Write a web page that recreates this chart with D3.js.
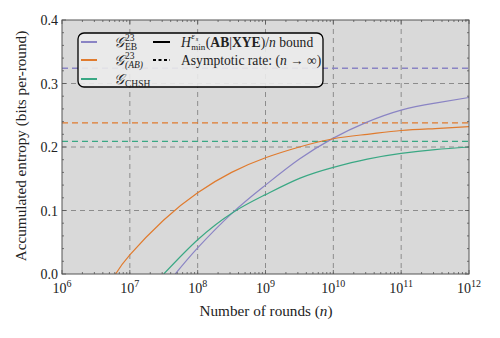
<!DOCTYPE html>
<html><head><meta charset="utf-8">
<script src="https://cdn.jsdelivr.net/npm/d3@7"></script>
<style>body{margin:0;background:#fff}svg text{font-family:"Liberation Serif","DejaVu Serif",serif;fill:#222}</style>
</head><body><svg id="c" width="500" height="338"></svg>
<script>
// ---- data (log10 of n, accumulated entropy) ----
const seriesNames = ["EB", "AB", "CHSH"];
const logN_EB   = [7.67, 8.0, 8.52, 9.0, 9.5, 10.0, 10.47, 11.0, 11.5, 12.0];
const val_EB    = [0.0, 0.041, 0.097, 0.140, 0.181, 0.214, 0.238, 0.258, 0.269, 0.278];
const logN_AB   = [6.79, 7.0, 7.5, 8.0, 8.5, 9.0, 9.5, 10.0, 10.5, 11.0, 11.5, 12.0];
const val_AB    = [0.0, 0.030, 0.085, 0.128, 0.160, 0.183, 0.200, 0.213, 0.220, 0.226, 0.229, 0.232];
const logN_CHSH = [7.50, 8.0, 8.52, 9.0, 9.51, 10.0, 10.5, 11.0, 11.5, 12.0];
const val_CHSH  = [0.0, 0.054, 0.097, 0.125, 0.151, 0.168, 0.181, 0.190, 0.196, 0.200];
const asymptotes = [0.324, 0.238, 0.209];
const colors = ["#8a84c4", "#e07b2e", "#3aa884"];
const xTickExps = [6, 7, 8, 9, 10, 11, 12];
const yTicks = [0.0, 0.1, 0.2, 0.3, 0.4];

const svg = d3.select("#c");
const L = 62, R = 469, T = 20, B = 274;
const x = d3.scaleLog().domain([1e6, 1e12]).range([L, R]);
const y = d3.scaleLinear().domain([0, 0.4]).range([B, T]);

svg.append("defs").append("clipPath").attr("id", "clip")
  .append("rect").attr("x", L).attr("y", T).attr("width", R - L).attr("height", B - T);

svg.append("rect").attr("x", L).attr("y", T).attr("width", R - L).attr("height", B - T).attr("fill", "#d9d9d9");

const plot = svg.append("g").attr("clip-path", "url(#clip)");
// grid
xTickExps.slice(1, -1).forEach(e => {
  plot.append("line").attr("x1", x(10 ** e)).attr("x2", x(10 ** e)).attr("y1", T).attr("y2", B)
    .attr("stroke", "#8c8c8c").attr("stroke-width", 1).attr("stroke-dasharray", "5,4");
});
yTicks.slice(1, -1).forEach(v => {
  plot.append("line").attr("x1", L).attr("x2", R).attr("y1", y(v)).attr("y2", y(v))
    .attr("stroke", "#8c8c8c").attr("stroke-width", 1).attr("stroke-dasharray", "5,4");
});
// asymptotes
asymptotes.forEach((a, i) => {
  plot.append("line").attr("x1", L).attr("x2", R).attr("y1", y(a)).attr("y2", y(a))
    .attr("stroke", colors[i]).attr("stroke-width", 1.3).attr("stroke-dasharray", "6,4");
});
// curves
const line = d3.line().x(d => x(10 ** d[0])).y(d => y(d[1])).curve(d3.curveNatural);
[[logN_EB, val_EB], [logN_AB, val_AB], [logN_CHSH, val_CHSH]].forEach((s, i) => {
  plot.append("path").datum(s[0].map((v, j) => [v, s[1][j]]))
    .attr("d", line).attr("fill", "none").attr("stroke", colors[i]).attr("stroke-width", 1.2);
});

// frame
svg.append("rect").attr("x", L).attr("y", T).attr("width", R - L).attr("height", B - T)
  .attr("fill", "none").attr("stroke", "#555").attr("stroke-width", 1);

// ticks (inward) on all sides
const tk = svg.append("g").attr("stroke", "#555").attr("stroke-width", 0.8);
for (let e = 6; e <= 12; e++) {
  const xs = x(10 ** e);
  tk.append("line").attr("x1", xs).attr("x2", xs).attr("y1", B).attr("y2", B - 4);
  tk.append("line").attr("x1", xs).attr("x2", xs).attr("y1", T).attr("y2", T + 4);
  if (e < 12) for (let m = 2; m <= 9; m++) {
    const xm = x(m * 10 ** e);
    tk.append("line").attr("x1", xm).attr("x2", xm).attr("y1", B).attr("y2", B - 2);
    tk.append("line").attr("x1", xm).attr("x2", xm).attr("y1", T).attr("y2", T + 2);
  }
}
d3.range(0, 0.4001, 0.02).forEach((v, i) => {
  const len = i % 5 === 0 ? 4 : 2;
  tk.append("line").attr("x1", L).attr("x2", L + len).attr("y1", y(v)).attr("y2", y(v));
  tk.append("line").attr("x1", R).attr("x2", R - len).attr("y1", y(v)).attr("y2", y(v));
});

// y tick labels
yTicks.forEach(v => {
  svg.append("text").attr("x", L - 4).attr("y", y(v) + 5).attr("text-anchor", "end")
    .attr("font-size", 14).text(v.toFixed(1));
});
// x tick labels
xTickExps.forEach(e => {
  const t = svg.append("text").attr("x", x(10 ** e)).attr("y", 293).attr("text-anchor", "middle").attr("font-size", 14);
  t.append("tspan").text("10");
  t.append("tspan").attr("dy", -6.5).attr("font-size", 10).text(e);
});
// axis titles
svg.append("text").attr("x", 266).attr("y", 316).attr("text-anchor", "middle").attr("font-size", 15.2)
  .html('Number of rounds (<tspan font-style="italic">n</tspan>)');
svg.append("text").attr("transform", `translate(26,146) rotate(-90)`).attr("text-anchor", "middle")
  .attr("font-size", 15.2).text("Accumulated entropy (bits per-round)");

// legend
const lg = svg.append("g");
lg.append("rect").attr("x", 78).attr("y", 33).attr("width", 245).attr("height", 54).attr("rx", 6)
  .attr("fill", "#ebebeb").attr("fill-opacity", 0.9).attr("stroke", "#000").attr("stroke-width", 1.3);
const rowsY = [42, 60, 79];
const subs = [["23", "EB"], ["23", "(AB)"], ["", "CHSH"]];
const subItalic = [false, true, false];
rowsY.forEach((ry, i) => {
  lg.append("line").attr("x1", 81).attr("x2", 97).attr("y1", ry).attr("y2", ry)
    .attr("stroke", colors[i]).attr("stroke-width", 2);
  const g = lg.append("text").attr("x", 114).attr("y", ry + 4.5).attr("font-size", 14.5)
    .attr("font-style", "italic").text("𝒢");
  const w = g.node().getComputedTextLength();
  if (subs[i][0]) lg.append("text").attr("x", 114 + w + 1).attr("y", ry - 1).attr("font-size", 9.5).text(subs[i][0]);
  lg.append("text").attr("x", 114 + w + 1).attr("y", ry + 8).attr("font-size", 9.5)
    .attr("font-style", subItalic[i] ? "italic" : "normal").text(subs[i][1]);
});
lg.append("line").attr("x1", 153).attr("x2", 170).attr("y1", 42).attr("y2", 42).attr("stroke", "#000").attr("stroke-width", 2);
lg.append("line").attr("x1", 153).attr("x2", 170).attr("y1", 60).attr("y2", 60).attr("stroke", "#000")
  .attr("stroke-width", 2).attr("stroke-dasharray", "3,2.5");
// H min label
const hx = 181;
const h1 = lg.append("text").attr("x", hx).attr("y", 46.5).attr("font-size", 13.6).attr("font-style", "italic").text("H");
const hw = h1.node().getComputedTextLength();
lg.append("text").attr("x", hx + hw + 0.5).attr("y", 39).attr("font-size", 9).attr("font-style", "italic").text("ε");
lg.append("text").attr("x", hx + hw + 5).attr("y", 41).attr("font-size", 6.5).attr("font-style", "italic").text("s");
lg.append("text").attr("x", hx + hw + 0.5).attr("y", 50).attr("font-size", 9).text("min");
lg.append("text").attr("x", hx + hw + 15).attr("y", 46.5).attr("font-size", 13.6)
  .html('(<tspan font-weight="bold">AB</tspan>|<tspan font-weight="bold">XYE</tspan>)/<tspan font-style="italic">n</tspan> bound');
lg.append("text").attr("x", hx).attr("y", 64.5).attr("font-size", 13.6)
  .html('Asymptotic rate: (<tspan font-style="italic">n</tspan> → ∞)');
</script></body></html>
